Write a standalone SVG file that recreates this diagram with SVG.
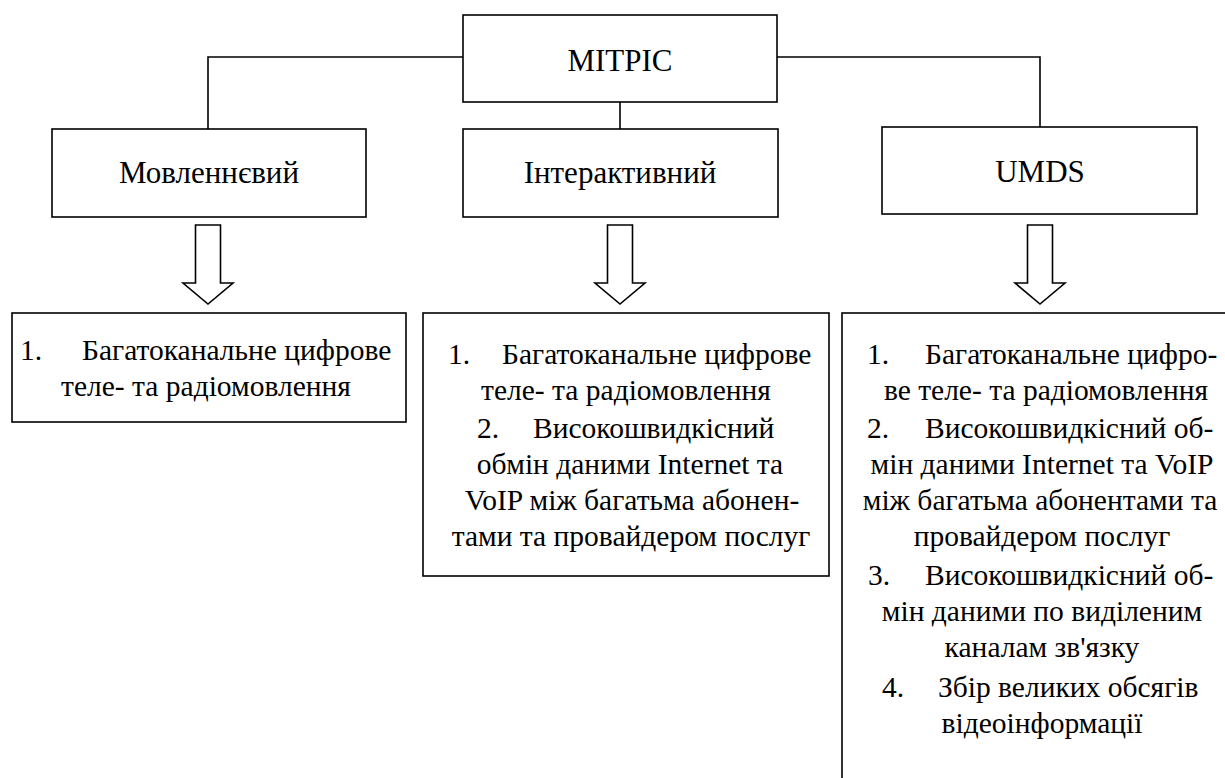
<svg xmlns="http://www.w3.org/2000/svg" width="1225" height="778" viewBox="0 0 1225 778">
<style>
.box{fill:#fff;stroke:#000;stroke-width:1.6}
.arr{fill:#fff;stroke:#000;stroke-width:1.6;stroke-linejoin:miter}
.ln{fill:none;stroke:#000;stroke-width:1.6}
.h{font-family:"Liberation Serif","Times New Roman",serif;font-size:31px;fill:#000;text-anchor:middle}
.t{font-family:"Liberation Serif","Times New Roman",serif;font-size:29.5px;fill:#000}
.c{text-anchor:middle}
</style>
<rect width="1225" height="778" fill="#fff"/>
<g id="connectors">
<path class="ln" d="M463,57 H208 V129"/>
<path class="ln" d="M620,102 V129"/>
<path class="ln" d="M777,57 H1040 V127"/>
<polygon class="arr" points="195.5,225 220.5,225 220.5,283 233,283 208,304 183,283 195.5,283"/>
<polygon class="arr" points="607.5,225 632.5,225 632.5,283 645,283 620,304 595,283 607.5,283"/>
<polygon class="arr" points="1027.5,225 1052.5,225 1052.5,283 1065,283 1040,304 1015,283 1027.5,283"/>
</g>
<g id="mitris">
<rect class="box" x="463" y="15" width="314" height="87"/>
<text class="h" x="620" y="71">MITPIC</text>
</g>
<g id="movlennevyi">
<rect class="box" x="52" y="129" width="314" height="88"/>
<text class="h" x="209" y="183">Мовленнєвий</text>
</g>
<g id="interaktyvnyi">
<rect class="box" x="463" y="129" width="315" height="88"/>
<text class="h" x="620" y="183">Інтерактивний</text>
</g>
<g id="umds">
<rect class="box" x="882" y="127" width="315" height="87"/>
<text class="h" x="1040" y="182">UMDS</text>
</g>
<g id="services-movlennevyi">
<rect class="box" x="12" y="313" width="394" height="109"/>
<text class="t" y="360"><tspan x="20">1.</tspan><tspan x="82">Багатоканальне цифрове</tspan></text>
<text class="t c" x="206" y="396">теле- та радіомовлення</text>
</g>
<g id="services-interaktyvnyi">
<rect class="box" x="423" y="313" width="406" height="263"/>
<text class="t" y="364"><tspan x="448">1.</tspan><tspan x="502">Багатоканальне цифрове</tspan></text>
<text class="t c" x="626" y="400">теле- та радіомовлення</text>
<text class="t" y="438"><tspan x="477">2.</tspan><tspan x="533">Високошвидкісний</tspan></text>
<text class="t c" x="630" y="474">обмін даними Internet та</text>
<text class="t c" x="632" y="510">VoIP між багатьма абонен-</text>
<text class="t c" x="631" y="546">тами та провайдером послуг</text>
</g>
<g id="services-umds">
<rect class="box" x="842" y="313" width="420" height="500"/>
<text class="t" y="364"><tspan x="867">1.</tspan><tspan x="925">Багатоканальне цифро-</tspan></text>
<text class="t c" x="1046" y="400">ве теле- та радіомовлення</text>
<text class="t" y="438"><tspan x="867">2.</tspan><tspan x="925">Високошвидкісний об-</tspan></text>
<text class="t c" x="1042" y="474">мін даними Internet та VoIP</text>
<text class="t c" x="1040" y="510">між багатьма абонентами та</text>
<text class="t c" x="1042" y="546">провайдером послуг</text>
<text class="t" y="585"><tspan x="868">3.</tspan><tspan x="925">Високошвидкісний об-</tspan></text>
<text class="t c" x="1042" y="621">мін даними по виділеним</text>
<text class="t c" x="1042" y="657">каналам зв'язку</text>
<text class="t" y="697"><tspan x="882">4.</tspan><tspan x="938">Збір великих обсягів</tspan></text>
<text class="t c" x="1042" y="733">відеоінформації</text>
</g>
</svg>
